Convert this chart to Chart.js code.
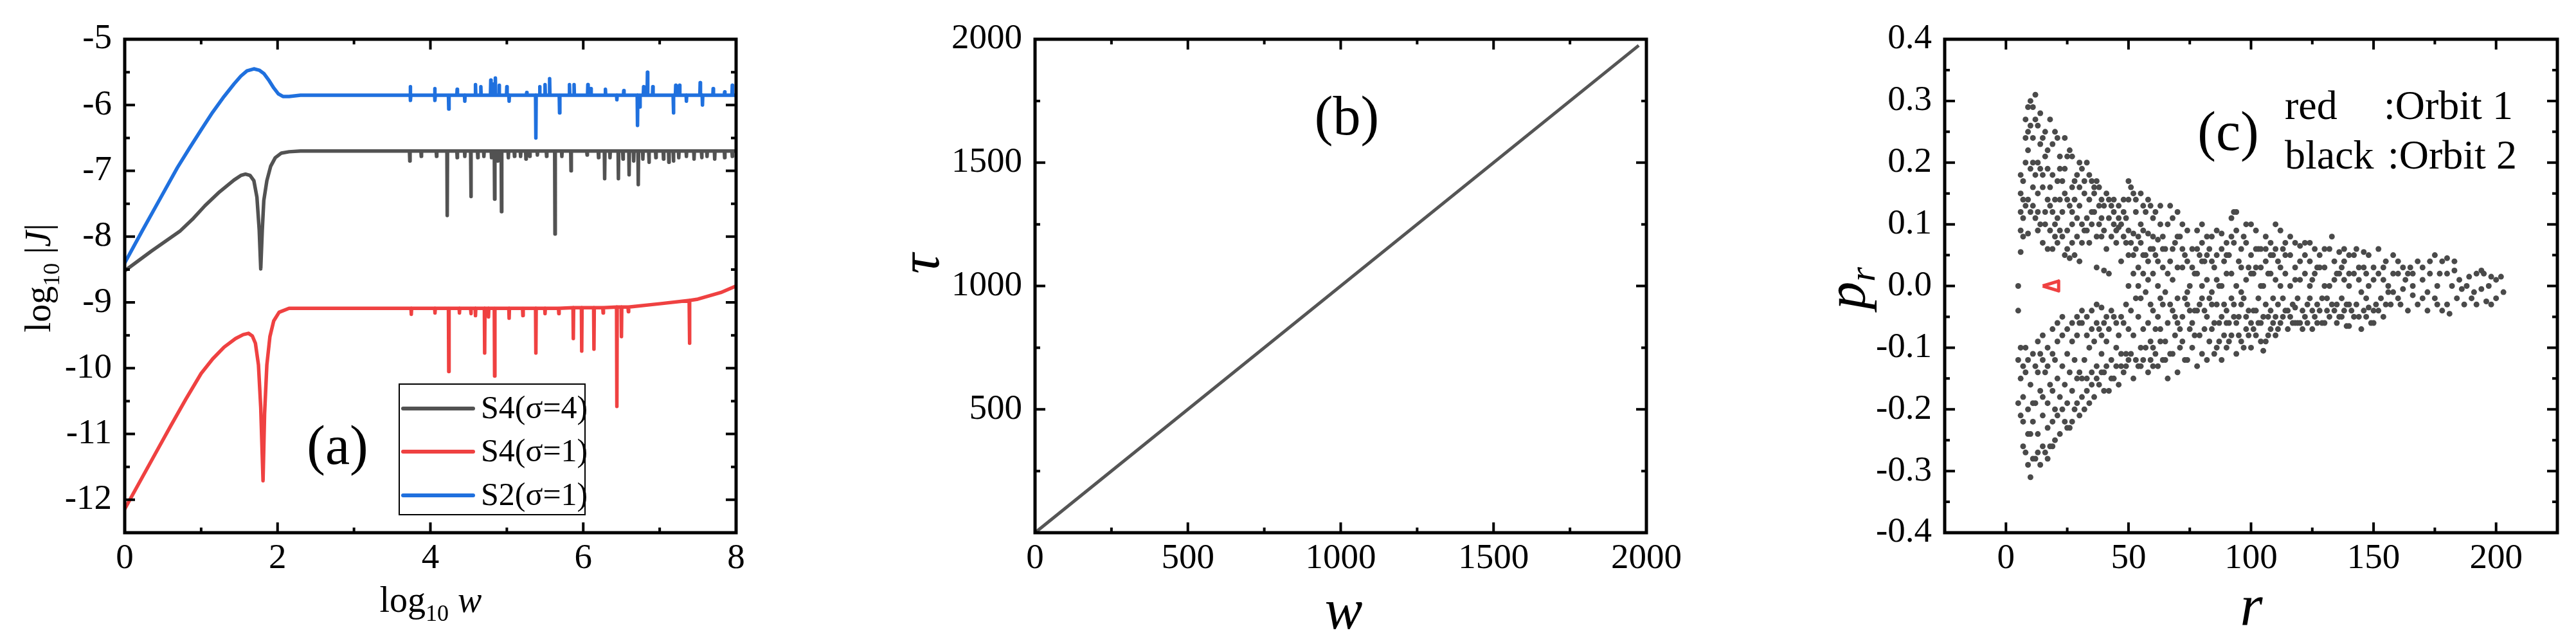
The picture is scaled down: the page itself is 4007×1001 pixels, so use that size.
<!DOCTYPE html>
<html>
<head>
<meta charset="utf-8">
<script src="https://cdn.jsdelivr.net/npm/chart.js@4.4.1/dist/chart.umd.min.js"></script>
<style>
  html, body { margin: 0; padding: 0; background: #fff; }
  body { width: 4007px; height: 1001px; position: relative; overflow: hidden; font-family: 'Liberation Serif', serif; }
  canvas { position: absolute; top: 0; }
  .preload { position: absolute; left: -9999px; top: 0; font-size: 20px; }
</style>
</head>
<body>
<span class="preload">0123 <i>wτr</i></span>
<canvas id="chartA" width="1200" height="1001" style="left:0px"></canvas>
<canvas id="chartB" width="1450" height="1001" style="left:1200px"></canvas>
<canvas id="chartC" width="1357" height="1001" style="left:2650px"></canvas>
<script>
// ---- panel (a): log10|J| vs log10 w ----
const aXTicks = [0, 2, 4, 6, 8];
const aXMinor = [1, 3, 5, 7];
const aYTicks = [-12, -11, -10, -9, -8, -7, -6, -5];
const aYMinor = [-12.5, -11.5, -10.5, -9.5, -8.5, -7.5, -6.5, -5.5];
const aLabels = ['S4(σ=4)', 'S4(σ=1)', 'S2(σ=1)'];

const blackCurve = [[0,-8.52],[0.35,-8.22],[0.72,-7.92],[0.9,-7.72],[1.05,-7.53],[1.24,-7.32],[1.43,-7.14],[1.52,-7.07],[1.58,-7.05],[1.64,-7.07],[1.69,-7.15],[1.73,-7.4],[1.76,-7.9],[1.78,-8.49],[1.80,-7.9],[1.82,-7.45],[1.86,-7.15],[1.91,-6.93],[1.97,-6.80],[2.05,-6.73],[2.15,-6.71],[2.3,-6.70],[8,-6.70]];
const blackSpikes = [[3.73,-6.7,-6.85],[3.88,-6.7,-6.78],[4.08,-6.7,-6.78],[4.22,-6.7,-7.68],[4.35,-6.7,-6.80],[4.45,-6.7,-6.78],[4.53,-6.7,-7.39],[4.62,-6.7,-6.80],[4.70,-6.7,-6.78],[4.80,-6.7,-6.80],[4.84,-6.7,-7.43],[4.88,-6.7,-6.85],[4.93,-6.7,-7.62],[5.02,-6.7,-6.80],[5.10,-6.7,-6.78],[5.18,-6.7,-6.78],[5.25,-6.7,-6.82],[5.30,-6.7,-6.78],[5.40,-6.7,-6.76],[5.52,-6.7,-6.78],[5.63,-6.7,-7.96],[5.72,-6.7,-6.78],[5.84,-6.7,-7.0],[6.05,-6.7,-6.76],[6.20,-6.7,-6.80],[6.28,-6.7,-7.12],[6.35,-6.7,-6.80],[6.46,-6.7,-7.12],[6.52,-6.7,-6.82],[6.60,-6.7,-7.06],[6.66,-6.7,-6.85],[6.72,-6.7,-7.21],[6.78,-6.7,-6.82],[6.86,-6.7,-6.87],[6.95,-6.7,-6.80],[7.05,-6.7,-6.82],[7.12,-6.7,-6.87],[7.18,-6.7,-6.85],[7.25,-6.7,-6.80],[7.35,-6.7,-6.78],[7.45,-6.7,-6.82],[7.55,-6.7,-6.80],[7.62,-6.7,-6.78],[7.72,-6.7,-6.82],[7.85,-6.7,-6.80],[7.95,-6.7,-6.78]];

const redCurve = [[0,-12.14],[0.2,-11.72],[0.4,-11.30],[0.6,-10.88],[0.8,-10.47],[1.0,-10.08],[1.15,-9.86],[1.3,-9.68],[1.45,-9.55],[1.55,-9.49],[1.62,-9.47],[1.67,-9.51],[1.71,-9.62],[1.75,-9.95],[1.78,-10.6],[1.81,-11.71],[1.83,-10.7],[1.86,-9.95],[1.9,-9.52],[1.95,-9.28],[2.02,-9.15],[2.15,-9.09],[6.0,-9.08],[6.5,-9.07],[7.0,-9.02],[7.5,-8.95],[7.8,-8.85],[8,-8.75]];
const redSpikes = [[3.75,-9.09,-9.18],[4.06,-9.09,-9.16],[4.24,-9.09,-10.05],[4.38,-9.09,-9.16],[4.53,-9.09,-9.17],[4.59,-9.09,-9.20],[4.71,-9.09,-9.77],[4.76,-9.09,-9.22],[4.84,-9.09,-10.12],[5.03,-9.09,-9.24],[5.21,-9.09,-9.20],[5.38,-9.09,-9.77],[5.5,-9.09,-9.17],[5.68,-9.09,-9.17],[5.87,-9.08,-9.55],[5.98,-9.08,-9.74],[6.14,-9.08,-9.71],[6.26,-9.08,-9.16],[6.44,-9.07,-10.58],[6.5,-9.07,-9.52],[6.59,-9.07,-9.14],[7.39,-8.97,-9.62]];

const blueCurve = [[0,-8.40],[0.23,-7.91],[0.46,-7.43],[0.69,-6.95],[0.85,-6.65],[1.01,-6.36],[1.15,-6.11],[1.30,-5.87],[1.43,-5.68],[1.52,-5.56],[1.60,-5.48],[1.69,-5.45],[1.76,-5.47],[1.82,-5.52],[1.89,-5.63],[1.95,-5.74],[2.01,-5.83],[2.07,-5.87],[2.15,-5.87],[2.3,-5.85],[8,-5.85]];
const blueSpikes = [[3.74,-5.85,-5.72],[3.74,-5.85,-5.93],[4.06,-5.85,-5.75],[4.06,-5.85,-5.93],[4.24,-5.85,-6.06],[4.35,-5.85,-5.76],[4.45,-5.85,-5.94],[4.59,-5.85,-5.69],[4.66,-5.85,-5.72],[4.79,-5.85,-5.62],[4.83,-5.85,-5.68],[4.85,-5.85,-5.59],[4.9,-5.85,-5.70],[5.0,-5.85,-5.72],[5.03,-5.85,-5.94],[5.26,-5.85,-5.81],[5.38,-5.85,-6.5],[5.43,-5.85,-5.72],[5.50,-5.85,-5.69],[5.56,-5.85,-5.60],[5.69,-5.85,-6.12],[5.82,-5.85,-5.69],[5.88,-5.85,-5.69],[6.06,-5.85,-5.69],[6.10,-5.85,-5.75],[6.29,-5.85,-5.76],[6.44,-5.85,-5.92],[6.53,-5.85,-5.78],[6.71,-5.85,-6.31],[6.74,-5.85,-6.03],[6.79,-5.85,-5.72],[6.84,-5.85,-5.50],[6.91,-5.85,-5.72],[7.18,-5.85,-6.12],[7.21,-5.85,-5.70],[7.26,-5.85,-5.70],[7.35,-5.85,-5.94],[7.53,-5.85,-5.66],[7.56,-5.85,-6.0],[7.7,-5.85,-5.75],[7.85,-5.85,-5.80],[7.95,-5.85,-5.70]];

// ---- panel (b): tau vs w ----
const bXTicks = [0, 500, 1000, 1500, 2000];
const bXMinor = [250, 750, 1250, 1750];
const bYTicks = [500, 1000, 1500, 2000];
const bYMinor = [250, 750, 1250, 1750];
const tauLine = [[0, 0], [1975, 1975]];

// ---- panel (c): p_r vs r ----
const cXTicks = [0, 50, 100, 150, 200];
const cXMinor = [25, 75, 125, 175];
const cYTicks = [-0.4, -0.3, -0.2, -0.1, 0, 0.1, 0.2, 0.3, 0.4];
const cYMinor = [-0.35, -0.25, -0.15, -0.05, 0.05, 0.15, 0.25, 0.35];
const orbit1 = [[15,0.0],[21.5,0.008],[21.5,-0.008],[15,0.0]];
const orbit2 = [
[5,0.0],[5,-0.04],[6,0.055],[6,0.09],[6,0.12],[6,0.15],[7,0.17],[7,0.08],[7,0.11],[8,0.20],[8,0.24],[8,0.27],[9,0.29],[9,0.22],[9,0.14],[8,0.13],[10,0.30],[10,0.26],[10,0.19],[9,0.085],[10,0.12],
[5,-0.12],[6,-0.15],[5,-0.19],[6,-0.21],[7,-0.18],[7,-0.26],[8,-0.27],[8,-0.14],[9,-0.29],[9,-0.20],[10,-0.31],[10,-0.16],[10,-0.24],[6,-0.10],[8,-0.10],
[11,0.29],[11,0.16],[12,0.31],[12,0.27],[12,0.18],[12,0.11],[13,0.15],[13,0.09],[14,0.28],[14,0.19],[14,0.10],[14,0.23],[15,0.16],[15,0.07],[16,0.25],[16,0.12],[16,0.21],[17,0.19],[17,0.06],[18,0.27],[18,0.16],[18,0.13],[19,0.23],[19,0.18],[19,0.06],[20,0.25],[20,0.14],[20,0.10],
[11,-0.22],[11,-0.28],[12,-0.28],[12,-0.13],[12,-0.19],[13,-0.24],[13,-0.09],[14,-0.29],[14,-0.11],[14,-0.17],[15,-0.21],[15,-0.08],[15,-0.26],[16,-0.27],[16,-0.14],[17,-0.19],[17,-0.10],[17,-0.23],[18,-0.26],[18,-0.16],[19,-0.17],[19,-0.07],[19,-0.22],[20,-0.25],[20,-0.20],[20,-0.12],
[21,0.24],[21,0.17],[21,0.07],[22,0.14],[22,0.21],[23,0.17],[23,0.08],[24,0.24],[24,0.15],[24,0.05],[25,0.21],[25,0.09],[26,0.22],[26,0.13],[26,0.045],[27,0.21],[27,0.16],[27,0.10],[28,0.14],[28,0.05],[29,0.18],[29,0.11],[30,0.13],[30,0.04],[30,0.20],
[21,-0.15],[21,-0.06],[22,-0.24],[22,-0.18],[23,-0.13],[23,-0.05],[24,-0.22],[24,-0.16],[25,-0.11],[25,-0.19],[26,-0.23],[26,-0.14],[27,-0.09],[27,-0.17],[28,-0.20],[28,-0.12],[29,-0.08],[29,-0.15],[30,-0.21],[30,-0.14],[30,-0.06],
[31,0.19],[31,0.10],[32,0.09],[32,0.15],[33,0.20],[33,0.11],[34,0.18],[34,0.07],[35,0.17],[35,0.12],[36,0.15],[36,0.12],[37,0.17],[37,0.03],[38,0.16],[38,0.10],[39,0.14],[39,0.08],[40,0.13],[40,0.09],[40,0.025],
[31,-0.06],[31,-0.18],[32,-0.20],[32,-0.12],[33,-0.05],[33,-0.15],[34,-0.19],[34,-0.10],[35,-0.04],[35,-0.14],[36,-0.18],[36,-0.09],[37,-0.03],[37,-0.13],[38,-0.16],[38,-0.07],[39,-0.035],[39,-0.11],[40,-0.14],[40,-0.06],[40,-0.17],
[41,0.15],[42,0.11],[42,0.02],[43,0.13],[44,0.12],[44,0.10],[45,0.07],[46,0.13],[46,0.095],[47,0.04],[48,0.14],[48,0.08],[49,0.11],[50,0.17],[50,0.09],[50,0.05],
[41,-0.09],[42,-0.17],[42,-0.07],[43,-0.12],[44,-0.15],[44,-0.05],[45,-0.10],[46,-0.16],[46,-0.08],[47,-0.13],[48,-0.14],[48,-0.06],[49,-0.03],[49,-0.11],[50,-0.12],[50,-0.07],[50,0.0],
[51,0.16],[52,0.15],[52,0.085],[52,0.05],[53,0.12],[54,0.08],[54,0.03],[55,0.15],[55,0.10],[56,0.09],[56,0.02],[57,0.12],[58,0.14],[58,0.085],[58,0.01],[59,0.06],[60,0.08],[60,0.02],[60,0.11],
[51,-0.04],[52,-0.15],[52,-0.08],[53,-0.02],[54,-0.13],[54,-0.05],[55,-0.10],[56,-0.12],[56,-0.07],[57,-0.01],[58,-0.14],[58,-0.06],[59,-0.09],[60,-0.10],[60,-0.04],[60,-0.13],
[61,0.05],[62,0.075],[62,0.0],[63,0.10],[64,0.08],[64,0.03],[65,0.06],[65,-0.01],[66,0.10],[67,0.13],[67,0.04],[68,0.11],[68,0.01],[69,0.07],[70,0.12],[70,0.03],
[61,-0.07],[62,-0.13],[62,-0.05],[63,-0.02],[64,-0.12],[64,-0.03],[65,-0.09],[66,-0.15],[66,-0.06],[67,-0.11],[68,-0.04],[68,-0.11],[69,-0.08],[70,-0.14],[70,-0.02],[70,-0.06],
[71,0.08],[72,0.10],[72,0.03],[73,0.05],[74,0.09],[74,-0.01],[75,0.0],[76,0.06],[77,0.02],[78,0.09],[78,0.02],[79,0.05],[80,0.10],[80,0.0],[80,0.07],
[71,-0.10],[72,-0.09],[72,-0.05],[73,-0.12],[74,-0.03],[74,-0.12],[75,-0.07],[76,-0.10],[76,-0.06],[77,-0.04],[78,-0.13],[78,-0.04],[79,-0.08],[80,-0.11],[80,-0.02],
[81,0.04],[82,0.08],[82,0.01],[83,0.06],[84,0.08],[84,-0.01],[85,0.03],[86,0.09],[86,0.05],[87,0.0],[88,0.085],[88,0.0],[89,0.04],[90,0.07],[90,0.02],
[81,-0.07],[82,-0.12],[82,-0.05],[83,-0.09],[84,-0.07],[84,-0.03],[85,-0.11],[86,-0.10],[86,-0.03],[87,-0.06],[88,-0.12],[88,-0.05],[89,-0.08],[90,-0.06],[90,-0.04],[90,-0.10],
[91,0.05],[92,0.11],[92,0.02],[93,0.12],[93,0.07],[94,0.12],[94,0.0],[95,0.04],[96,0.06],[96,-0.01],[97,0.08],[98,0.07],[98,0.01],[99,0.03],[100,0.10],[100,0.05],
[91,-0.09],[92,-0.08],[92,-0.02],[93,-0.05],[94,-0.11],[94,-0.06],[95,-0.08],[96,-0.09],[96,-0.03],[97,-0.10],[98,-0.07],[98,-0.05],[99,-0.04],[100,-0.10],[100,-0.06],
[101,0.02],[102,0.09],[102,0.03],[103,0.06],[104,0.06],[104,0.0],[105,0.0],[106,0.08],[106,0.04],[107,0.02],[108,0.07],[108,0.02],[109,0.05],[110,0.10],[110,0.01],
[101,-0.04],[102,-0.08],[102,-0.04],[103,-0.06],[104,-0.06],[104,-0.09],[105,-0.105],[106,-0.09],[106,-0.03],[107,-0.05],[108,-0.07],[108,-0.04],[109,-0.06],[110,-0.05],[110,-0.08],
[111,0.04],[112,0.09],[112,0.0],[113,0.06],[114,0.07],[114,0.02],[116,0.05],[116,0.0],[118,0.07],[118,0.03],[120,0.065],[120,0.01],[122,0.02],[122,0.05],[124,0.07],[124,0.0],[125,0.01],
[111,-0.03],[112,-0.06],[113,-0.05],[114,-0.04],[115,-0.07],[116,-0.05],[117,-0.03],[118,-0.035],[118,-0.06],[119,-0.06],[120,-0.06],[121,-0.04],[122,-0.05],[123,-0.03],[124,-0.02],[125,-0.07],
[126,0.06],[127,0.03],[128,0.03],[130,0.06],[130,0.0],[132,0.0],[133,0.08],[134,0.04],[135,0.02],[136,0.055],[137,0.03],[138,0.01],[138,0.06],[140,0.05],[140,0.02],
[126,-0.05],[127,-0.03],[128,-0.04],[129,-0.06],[130,-0.06],[131,-0.02],[132,-0.05],[134,-0.04],[135,-0.03],[136,-0.05],[137,-0.02],[138,-0.04],[139,-0.065],[140,-0.065],[140,-0.03],
[142,0.02],[143,0.06],[144,0.03],[145,-0.01],[146,0.055],[147,0.02],[148,0.05],[148,0.0],[150,0.03],[152,0.06],[152,0.02],[154,0.01],[155,0.04],[156,0.0],[158,0.05],[160,0.04],[160,0.02],
[142,-0.05],[143,-0.03],[145,-0.07],[146,-0.04],[147,-0.02],[148,-0.035],[149,-0.06],[150,-0.06],[151,-0.03],[152,-0.04],[153,-0.02],[155,-0.03],[156,-0.01],[158,-0.01],[160,-0.02],
[162,-0.005],[163,0.01],[165,0.03],[166,0.0],[168,0.04],[170,0.03],[170,0.01],[172,-0.01],[173,0.02],[175,0.05],[176,0.0],[178,0.04],[178,-0.04],[180,0.02],[180,-0.03],[180,0.045],[182,0.0],[183,0.025],[184,-0.02],[185,0.01],[175,-0.02],[170,-0.02],[166,-0.015],[164,0.02],
[186,-0.005],[188,0.0],[190,-0.02],[192,0.02],[192,-0.03],[194,0.025],[195,0.02],[196,-0.025],[198,0.015],[200,0.01],[200,-0.02],[202,0.015],[203,-0.01],[198,-0.03],
[9,0.25],[11,0.24],[13,0.26],[15,0.24],[17,0.22],[13,0.20],[15,0.18],[11,0.13],[13,0.12],[17,0.14],[19,0.12],[21,0.11],[23,0.12],[25,0.14],[27,0.12],[22,0.19],[24,0.19],[28,0.17],[30,0.16],[32,0.17],[34,0.14],[36,0.16],[38,0.13],[42,0.14],[44,0.14],[46,0.11],[48,0.12],[50,0.14],[53,0.14],[56,0.13],[59,0.13],[61,0.12],[63,0.13],[35,0.10],[37,0.08],[39,0.11],[41,0.06],[43,0.08],[45,0.09],[47,0.10],[49,0.07],[51,0.07],[53,0.06],[55,0.07],[57,0.05],[33,0.09],[31,0.07],[29,0.08],[27,0.07],[25,0.06],[22,0.09],[20,0.08],[18,0.09],[16,0.10],[11,0.20],[7,0.14],[6,0.18],
[7,-0.22],[9,-0.24],[11,-0.19],[13,-0.27],[15,-0.18],[17,-0.28],[19,-0.26],[21,-0.21],[23,-0.20],[25,-0.23],[27,-0.22],[29,-0.19],[31,-0.15],[33,-0.17],[35,-0.16],[37,-0.15],[39,-0.14],[41,-0.13],[43,-0.15],[45,-0.13],[47,-0.11],[49,-0.13],[51,-0.11],[53,-0.12],[55,-0.13],[57,-0.10],[59,-0.12],[61,-0.11],[63,-0.09],[65,-0.12],[11,-0.11],[13,-0.14],[15,-0.12],[17,-0.13],[19,-0.11],[21,-0.09],[23,-0.08],[25,-0.07],[27,-0.06],[29,-0.05],[31,-0.04],[33,-0.08],[35,-0.07],[37,-0.06],[39,-0.08],[41,-0.05],[43,-0.04],[45,-0.06],[47,-0.05],[9,-0.12],[7,-0.13],
[52,0.02],[54,0.0],[56,0.05],[58,0.04],[60,0.06],[62,0.04],[64,0.06],[66,0.02],[68,0.06],[70,0.08],[72,0.06],[74,0.04],[76,0.03],[78,0.06],[80,0.04],[82,0.05],[84,0.04],[86,0.01],[88,0.06],[90,0.05],[92,0.08],[94,0.09],[96,0.03],[98,0.10],[100,0.02],[102,0.06],[104,0.03],[106,0.06],[108,0.05],[110,0.06],[112,0.03],[114,0.05],[116,0.08],[118,0.01],[120,0.04],[122,0.07],[124,0.04],[126,0.02],[128,0.05],[130,0.03],[132,0.06],[134,0.01],[136,0.02],[138,0.04],[140,0.0],[142,0.05],[144,0.01],[146,0.03],[150,0.01],[154,0.03],[158,0.02],[162,0.03],[166,0.02],
[55,-0.02],[59,-0.03],[63,-0.07],[67,-0.03],[69,-0.05],[71,-0.07],[73,-0.02],[75,-0.04],[77,-0.08],[79,-0.03],[81,-0.04],[83,-0.02],[85,-0.06],[87,-0.09],[89,-0.03],[91,-0.06],[93,-0.03],[95,-0.05],[97,-0.02],[99,-0.08],[101,-0.07],[103,-0.02],[105,-0.05],[107,-0.08],[109,-0.02],[111,-0.07],[113,-0.02],[115,-0.04],[117,-0.06],[119,-0.02],[121,-0.07],[123,-0.06],[125,-0.04],[127,-0.06],[129,-0.02],[131,-0.04],[133,-0.03],[135,-0.06],[137,-0.05],[139,-0.03],[141,-0.04],[144,-0.05],[147,-0.05],[150,-0.04],[154,-0.05],[157,-0.03],[161,-0.03],[164,-0.04],[168,-0.03],[172,-0.04],[176,-0.03],[181,-0.045],[187,-0.03],[191,-0.01],[194,-0.005],[197,0.0],[173,0.04],[177,0.02],[183,0.04],[189,0.015]
];

const SERIF = "'Liberation Serif', 'DejaVu Serif', serif";
const BLACK = '#525252', RED = '#ef4141', BLUE = '#1f70de';

function buildSeries(curve, spikes) {
  const pts = curve.map(([x, y]) => ({ x, y }));
  spikes.forEach(([x, base, tip]) => {
    pts.push({ x: x - 0.004, y: base }, { x, y: tip }, { x: x + 0.004, y: base });
  });
  return pts.sort((a, b) => a.x - b.x);
}

// text made of runs with different fonts (subscripts, italics)
function drawRuns(ctx, runs, cx, baseY, angle) {
  ctx.save();
  ctx.translate(cx, baseY);
  ctx.rotate(angle || 0);
  ctx.fillStyle = '#000';
  ctx.textBaseline = 'alphabetic';
  ctx.textAlign = 'left';
  let total = 0;
  runs.forEach(r => { ctx.font = r.font; total += ctx.measureText(r.text).width; });
  let x = -total / 2;
  runs.forEach(r => {
    ctx.font = r.font;
    ctx.fillText(r.text, x, r.dy || 0);
    x += ctx.measureText(r.text).width;
  });
  ctx.restore();
}

// box frame with inward ticks on all four sides, plus panel extras
function framePlugin(t, extra) {
  return {
    id: 'frame',
    afterDraw(chart) {
      const { ctx, chartArea: a, scales: { x, y } } = chart;
      ctx.save();
      ctx.strokeStyle = '#000';
      ctx.lineWidth = 4;
      const mark = (vals, len, horiz) => vals.forEach(v => {
        ctx.beginPath();
        if (horiz) {
          const px = x.getPixelForValue(v);
          ctx.moveTo(px, a.bottom); ctx.lineTo(px, a.bottom - len);
          ctx.moveTo(px, a.top); ctx.lineTo(px, a.top + len);
        } else {
          const py = y.getPixelForValue(v);
          ctx.moveTo(a.left, py); ctx.lineTo(a.left + len, py);
          ctx.moveTo(a.right, py); ctx.lineTo(a.right - len, py);
        }
        ctx.stroke();
      });
      mark(t.xMajor, 16, true); mark(t.xMinor, 8, true);
      mark(t.yMajor, 16, false); mark(t.yMinor, 8, false);
      ctx.lineWidth = 5;
      ctx.strokeRect(a.left, a.top, a.right - a.left, a.bottom - a.top);
      ctx.restore();
      extra(chart, ctx);
    }
  };
}

function axes(xMin, xMax, yMin, yMax, xt, yt, yWidth, fmt) {
  const tickFont = { family: SERIF, size: 55 };
  return {
    x: {
      type: 'linear', min: xMin, max: xMax,
      grid: { display: false, drawTicks: false }, border: { display: false },
      ticks: { font: tickFont, color: '#000', padding: 8, maxRotation: 0, callback: v => String(v) },
      afterBuildTicks: s => { s.ticks = xt.map(v => ({ value: v })); },
      afterFit: s => { s.height = 173; }
    },
    y: {
      type: 'linear', min: yMin, max: yMax,
      grid: { display: false, drawTicks: false }, border: { display: false },
      ticks: { font: tickFont, color: '#000', padding: 20, callback: fmt || (v => String(v)) },
      afterBuildTicks: s => { s.ticks = yt.map(v => ({ value: v })); },
      afterFit: s => { s.width = yWidth; }
    }
  };
}

const common = {
  responsive: false, animation: false, devicePixelRatio: 1,
  plugins: { legend: { display: false }, tooltip: { enabled: false } }
};

function drawAll() {
  // ---------- chart (a) ----------
  const aSeries = [buildSeries(blackCurve, blackSpikes), buildSeries(redCurve, redSpikes), buildSeries(blueCurve, blueSpikes)];
  const aColors = [BLACK, RED, BLUE];
  new Chart(document.getElementById('chartA'), {
    type: 'line',
    data: {
      datasets: aSeries.map((d, i) => ({
        label: aLabels[i], data: d, borderColor: aColors[i], borderWidth: 5.5,
        pointRadius: 0, tension: 0, borderJoinStyle: 'round', borderCapStyle: 'round', fill: false
      }))
    },
    options: {
      ...common,
      layout: { padding: { top: 61, left: 0, right: 55, bottom: 0 } },
      scales: axes(0, 8, -12.5, -5, aXTicks, aYTicks, 194)
    },
    plugins: [framePlugin({ xMajor: aXTicks, xMinor: aXMinor, yMajor: aYTicks, yMinor: aYMinor }, (chart, ctx) => {
      drawRuns(ctx, [
        { text: 'log', font: `56px ${SERIF}` },
        { text: '10', font: `36px ${SERIF}`, dy: 14 },
        { text: ' |', font: `56px ${SERIF}` },
        { text: 'J', font: `italic 56px ${SERIF}` },
        { text: '|', font: `56px ${SERIF}` }
      ], 78, 432, -Math.PI / 2);
      drawRuns(ctx, [
        { text: 'log', font: `56px ${SERIF}` },
        { text: '10', font: `36px ${SERIF}`, dy: 14 },
        { text: ' ', font: `56px ${SERIF}` },
        { text: 'w', font: `italic 56px ${SERIF}` }
      ], 670, 951, 0);
      drawRuns(ctx, [{ text: '(a)', font: `86px ${SERIF}` }], 525, 721, 0);
      // legend box
      ctx.save();
      ctx.strokeStyle = '#000'; ctx.lineWidth = 2;
      ctx.strokeRect(621, 597, 289, 203);
      const rowsY = [635, 702, 770];
      chart.data.datasets.forEach((ds, i) => {
        ctx.strokeStyle = ds.borderColor; ctx.lineWidth = 6; ctx.lineCap = 'round';
        ctx.beginPath(); ctx.moveTo(627, rowsY[i]); ctx.lineTo(736, rowsY[i]); ctx.stroke();
        ctx.fillStyle = '#000'; ctx.font = `50px ${SERIF}`; ctx.textBaseline = 'middle'; ctx.textAlign = 'left';
        ctx.fillText(ds.label, 748, rowsY[i] + 2);
      });
      ctx.restore();
    })]
  });

  // ---------- chart (b) ----------
  new Chart(document.getElementById('chartB'), {
    type: 'line',
    data: {
      datasets: [{
        data: tauLine.map(([x, y]) => ({ x, y })), borderColor: '#555555', borderWidth: 5,
        pointRadius: 0, tension: 0, fill: false
      }]
    },
    options: {
      ...common,
      layout: { padding: { top: 61, left: 0, right: 89, bottom: 0 } },
      scales: axes(0, 2000, 0, 2000, bXTicks, bYTicks, 410)
    },
    plugins: [framePlugin({ xMajor: bXTicks, xMinor: bXMinor, yMajor: bYTicks, yMinor: bYMinor }, (chart, ctx) => {
      drawRuns(ctx, [{ text: 'w', font: `italic 88px ${SERIF}` }], 890, 977, 0);
      drawRuns(ctx, [{ text: 'τ', font: `italic 88px ${SERIF}` }], 260, 410, -Math.PI / 2);
      drawRuns(ctx, [{ text: '(b)', font: `86px ${SERIF}` }], 895, 209, 0);
    })]
  });

  // ---------- chart (c) ----------
  new Chart(document.getElementById('chartC'), {
    type: 'scatter',
    data: {
      datasets: [
        {
          data: orbit2.map(([x, y]) => ({ x, y })), backgroundColor: '#4a4a4a', borderWidth: 0,
          pointRadius: 4.5, showLine: false
        },
        {
          data: orbit1.map(([x, y]) => ({ x, y })), borderColor: RED, borderWidth: 5,
          pointRadius: 0, showLine: true, tension: 0, borderJoinStyle: 'round'
        }
      ]
    },
    options: {
      ...common,
      layout: { padding: { top: 61, left: 0, right: 29, bottom: 0 } },
      scales: axes(-25, 225, -0.4, 0.4, cXTicks, cYTicks, 375, v => v.toFixed(1))
    },
    plugins: [framePlugin({ xMajor: cXTicks, xMinor: cXMinor, yMajor: cYTicks, yMinor: cYMinor }, (chart, ctx) => {
      drawRuns(ctx, [{ text: 'r', font: `italic 90px ${SERIF}` }], 852, 971, 0);
      drawRuns(ctx, [
        { text: 'p', font: `italic 86px ${SERIF}` },
        { text: 'r', font: `italic 58px ${SERIF}`, dy: 16 }
      ], 250, 448, -Math.PI / 2);
      drawRuns(ctx, [{ text: '(c)', font: `86px ${SERIF}` }], 816, 233, 0);
      ctx.save();
      ctx.fillStyle = '#000'; ctx.font = `64px ${SERIF}`; ctx.textBaseline = 'alphabetic'; ctx.textAlign = 'left';
      ctx.fillText('red', 904, 185);
      ctx.fillText(':Orbit 1', 1058, 185);
      ctx.fillText('black', 904, 262);
      ctx.fillText(':Orbit 2', 1064, 262);
      ctx.restore();
    })]
  });
}

Promise.all([
  document.fonts.load(`54px ${SERIF}`),
  document.fonts.load(`italic 54px ${SERIF}`)
]).then(drawAll, drawAll);
</script>
</body>
</html>
